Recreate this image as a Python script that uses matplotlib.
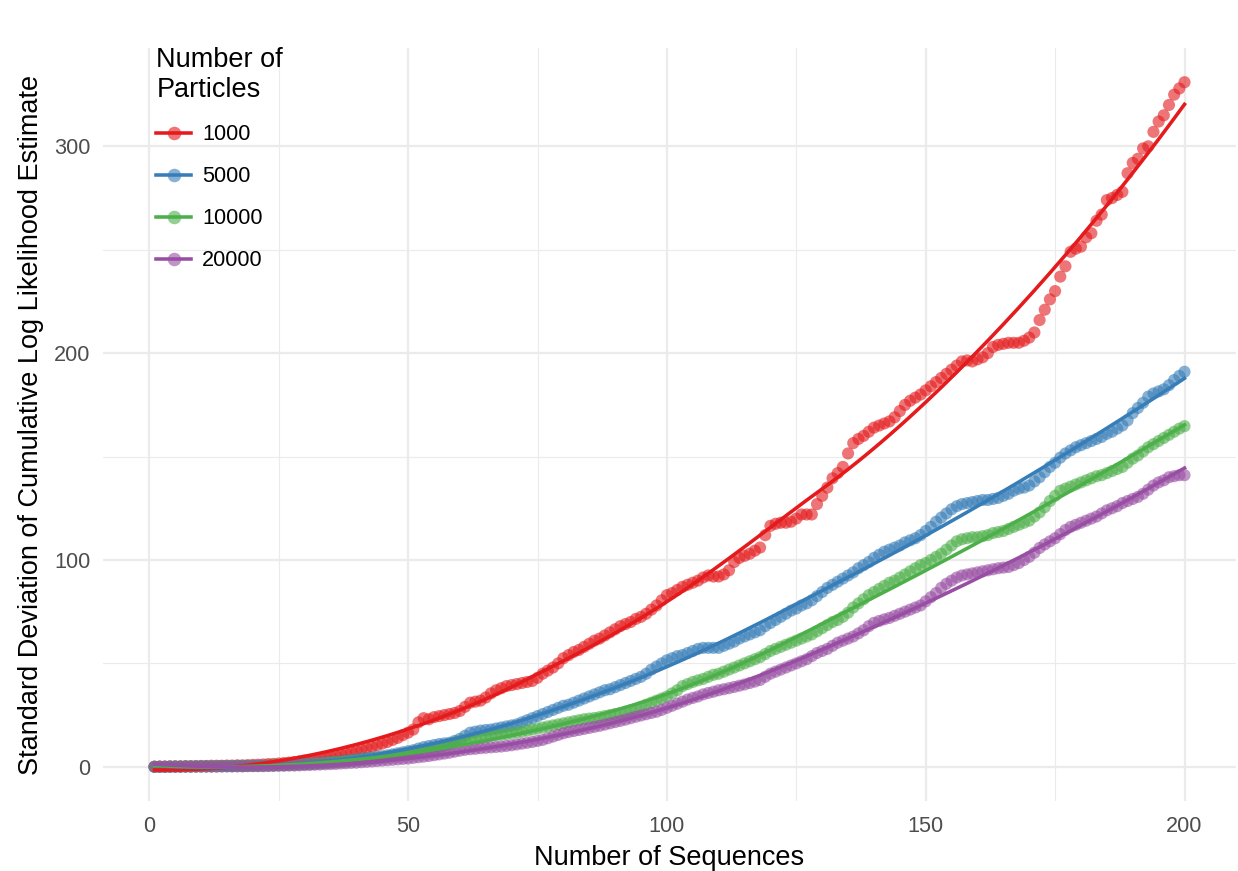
import numpy as np
import matplotlib
matplotlib.use("Agg")
import matplotlib.pyplot as plt
from matplotlib.lines import Line2D
from matplotlib.colors import to_rgba

plt.rcParams['font.family'] = ['Liberation Sans', 'DejaVu Sans']

# Number of sequences (x) and std dev of cumulative log likelihood per particle count
seqs = list(range(1, 201))

sd_1000 = [
    0.0, 0.1, 0.1, 0.2, 0.2, 0.2, 0.3, 0.3, 0.3, 0.4,
    0.4, 0.5, 0.5, 0.5, 0.6, 0.6, 0.7, 0.7, 0.8, 0.9,
    1.0, 1.1, 1.3, 1.4, 1.6, 1.8, 2.0, 2.3, 2.6, 3.0,
    3.3, 3.7, 4.1, 4.6, 5.0, 5.5, 6.0, 6.6, 7.2, 7.8,
    8.4, 9.0, 9.7, 10.4, 11.2, 12.0, 13.0, 14.0, 15.3, 16.5,
    18.0, 21.5, 23.5, 23.0, 24.0, 24.5, 25.0, 25.5, 26.0, 27.0,
    29.0, 31.0, 31.5, 32.0, 33.5, 35.5, 37.0, 38.0, 39.0, 39.5,
    40.0, 40.5, 41.0, 41.5, 43.0, 45.0, 46.5, 48.0, 50.0, 52.5,
    54.0, 55.5, 56.5, 58.0, 59.5, 61.0, 62.0, 63.5, 65.0, 66.5,
    68.0, 69.0, 70.0, 71.5, 72.5, 74.0, 76.0, 78.0, 80.5, 83.0,
    84.0, 85.5, 87.0, 88.0, 89.0, 90.0, 91.5, 92.5, 92.0, 92.0,
    93.0, 95.0, 99.0, 101.0, 102.0, 103.0, 104.5, 106.0, 112.0, 116.5,
    117.5, 118.0, 118.0, 118.5, 120.0, 122.0, 122.0, 122.0, 127.0, 131.0,
    135.0, 139.5, 142.0, 145.0, 151.5, 156.5, 158.5, 160.0, 162.0, 164.0,
    165.0, 166.0, 167.0, 169.0, 172.0, 175.0, 177.0, 178.5, 180.0, 182.0,
    184.0, 186.0, 188.0, 190.0, 192.0, 194.0, 196.0, 196.5, 196.0, 197.0,
    198.0, 200.0, 203.0, 204.0, 204.5, 205.0, 205.0, 205.0, 206.0, 207.5,
    210.0, 216.0, 221.0, 226.0, 230.0, 237.0, 242.0, 249.0, 250.5, 251.5,
    256.0, 258.0, 264.0, 267.0, 274.0, 275.0, 276.5, 278.0, 287.0, 292.0,
    294.0, 299.0, 300.0, 307.0, 312.0, 315.0, 320.0, 325.0, 328.0, 331.0,
]

sd_5000 = [
    0.0, 0.0, 0.0, 0.1, 0.1, 0.1, 0.1, 0.1, 0.2, 0.2,
    0.2, 0.2, 0.3, 0.3, 0.3, 0.3, 0.4, 0.4, 0.4, 0.5,
    0.5, 0.6, 0.6, 0.7, 0.8, 0.9, 1.0, 1.1, 1.2, 1.4,
    1.5, 1.7, 1.9, 2.1, 2.3, 2.5, 2.7, 3.0, 3.3, 3.6,
    3.9, 4.2, 4.5, 4.8, 5.1, 5.5, 6.0, 6.5, 7.0, 7.5,
    8.0, 8.8, 9.5, 10.0, 10.5, 11.0, 11.3, 11.6, 12.5, 13.5,
    15.0, 16.5, 17.0, 17.5, 17.8, 18.0, 18.5, 19.0, 19.5, 20.0,
    20.5, 21.5, 22.5, 23.5, 24.5, 25.5, 26.5, 27.5, 28.5, 29.5,
    30.0, 31.0, 32.0, 33.0, 34.0, 35.0, 36.0, 37.0, 37.5, 38.5,
    39.5, 40.5, 41.5, 42.5, 43.5, 45.0, 47.0, 48.5, 50.0, 51.5,
    52.5, 53.5, 54.0, 55.0, 56.0, 57.0, 57.5, 57.5, 57.5, 57.5,
    58.5, 59.5, 60.5, 62.0, 63.0, 64.0, 65.0, 66.0, 68.0, 69.5,
    71.0, 72.5, 74.0, 75.5, 76.5, 78.0, 79.0, 80.5, 82.5, 84.5,
    86.5, 88.0, 89.5, 91.0, 92.5, 94.0, 96.0, 97.5, 99.0, 101.0,
    102.5, 104.0, 105.0, 106.0, 107.0, 108.5, 109.5, 110.5, 112.0, 114.0,
    116.0, 118.5, 120.5, 122.5, 124.5, 126.0, 127.0, 127.5, 128.0, 128.5,
    129.0, 129.0, 129.5, 130.0, 131.0, 132.0, 133.5, 134.5, 135.0, 136.0,
    138.0, 140.0, 142.5, 145.0, 147.0, 149.5, 151.5, 153.0, 154.5, 155.5,
    156.5, 157.5, 158.5, 159.5, 161.0, 162.0, 163.5, 165.0, 167.5, 171.0,
    173.5, 176.0, 179.0, 180.5, 181.5, 182.5, 184.5, 187.0, 189.0, 191.0,
]

sd_10000 = [
    0.0, 0.0, 0.0, 0.0, 0.1, 0.1, 0.1, 0.1, 0.1, 0.1,
    0.2, 0.2, 0.2, 0.2, 0.3, 0.3, 0.3, 0.3, 0.4, 0.4,
    0.4, 0.5, 0.5, 0.6, 0.7, 0.7, 0.8, 0.9, 1.0, 1.1,
    1.2, 1.4, 1.5, 1.7, 1.9, 2.1, 2.3, 2.5, 2.8, 3.0,
    3.3, 3.6, 3.9, 4.2, 4.5, 4.9, 5.3, 5.8, 6.3, 6.8,
    7.3, 7.8, 8.3, 8.7, 9.0, 9.6, 10.2, 11.0, 11.8, 12.5,
    13.0, 13.3, 13.6, 14.0, 14.5, 15.0, 15.3, 15.5, 15.8, 16.2,
    16.6, 17.0, 17.5, 18.0, 18.5, 19.0, 19.5, 20.0, 20.5, 21.0,
    21.5, 22.0, 22.5, 23.0, 23.3, 23.6, 24.0, 24.5, 25.0, 25.5,
    26.0, 26.6, 27.3, 28.0, 29.0, 30.0, 31.0, 32.0, 33.0, 34.0,
    35.5, 37.0, 39.0, 40.0, 41.0, 41.8, 42.5, 43.5, 44.5, 45.0,
    46.0, 47.0, 48.0, 49.0, 50.0, 51.0, 52.0, 53.0, 54.5, 56.0,
    57.0, 58.0, 59.0, 60.0, 61.0, 62.0, 63.0, 64.0, 65.5, 67.0,
    68.5, 70.0, 71.0, 72.5, 74.5, 77.0, 79.0, 81.0, 83.0, 84.5,
    86.0, 87.5, 89.0, 90.0, 91.5, 93.0, 94.5, 96.0, 97.5, 98.5,
    100.0, 101.5, 103.0, 105.0, 107.0, 109.0, 110.0, 110.5, 111.0, 111.0,
    111.5, 112.0, 113.0, 113.5, 114.0, 115.0, 116.0, 117.0, 118.0, 119.0,
    121.0, 123.0, 125.5, 128.5, 131.0, 133.5, 134.5, 135.5, 136.5, 137.5,
    138.5, 139.5, 140.5, 141.0, 142.0, 143.0, 144.0, 145.0, 147.0, 149.0,
    150.5, 152.5, 154.5, 156.0, 157.5, 159.0, 160.5, 162.0, 163.5, 164.7,
]

sd_20000 = [
    0.0, 0.0, 0.0, 0.0, 0.0, 0.0, 0.1, 0.1, 0.1, 0.1,
    0.1, 0.1, 0.1, 0.2, 0.2, 0.2, 0.2, 0.2, 0.3, 0.3,
    0.3, 0.3, 0.4, 0.4, 0.5, 0.5, 0.6, 0.6, 0.7, 0.8,
    0.9, 1.0, 1.1, 1.2, 1.3, 1.4, 1.6, 1.7, 1.9, 2.0,
    2.2, 2.4, 2.6, 2.8, 3.0, 3.2, 3.4, 3.6, 3.8, 4.0,
    4.3, 4.6, 4.9, 5.2, 5.6, 6.0, 6.4, 6.8, 7.3, 7.8,
    8.2, 8.5, 8.7, 9.0, 9.2, 9.4, 9.6, 9.8, 10.1, 10.4,
    10.8, 11.2, 11.6, 12.0, 12.5, 13.0, 13.8, 14.6, 15.4, 16.2,
    16.8, 17.3, 17.8, 18.3, 18.8, 19.3, 19.8, 20.4, 21.0, 21.6,
    22.2, 22.8, 23.5, 24.2, 24.8, 25.4, 26.0, 26.6, 27.5, 28.5,
    29.5, 30.5, 31.5, 32.5, 33.3, 34.0, 35.0, 35.7, 36.3, 37.0,
    37.5, 38.0, 38.6, 39.2, 39.8, 40.5, 41.2, 42.0, 43.5, 45.0,
    46.0, 47.0, 48.0, 49.0, 50.0, 51.0, 52.0, 53.5, 55.0, 56.0,
    57.0, 58.5, 60.0, 61.0, 62.0, 63.0, 64.5, 66.0, 68.0, 69.6,
    70.5, 71.3, 72.0, 73.0, 74.0, 75.0, 76.0, 77.0, 78.0, 80.0,
    82.0, 84.0, 86.5, 88.5, 90.0, 91.5, 92.5, 93.0, 93.5, 94.0,
    94.5, 95.0, 95.5, 96.0, 96.3, 96.6, 97.5, 98.5, 100.0, 101.5,
    103.5, 105.8, 107.5, 109.0, 110.5, 112.5, 114.5, 116.0, 117.0, 118.0,
    119.0, 120.0, 121.0, 122.5, 124.0, 125.0, 126.0, 127.5, 128.5, 129.5,
    130.5, 132.0, 134.0, 136.0, 137.5, 138.5, 140.0, 140.5, 141.0, 141.0,
]

particles = ['1000', '5000', '10000', '20000']
colors = ['#E41A1C', '#377EB8', '#4DAF4A', '#984EA3']
series = [sd_1000, sd_5000, sd_10000, sd_20000]


def loess(x, y, span=0.75):
    # local quadratic fit with tricube weights, like R's loess default
    x = np.asarray(x, float)
    y = np.asarray(y, float)
    n = len(x)
    q = int(np.ceil(span * n))
    out = np.empty(n)
    for i, x0 in enumerate(x):
        d = np.abs(x - x0)
        h = np.sort(d)[q - 1]
        w = np.clip(1 - (d / h) ** 3, 0, None) ** 3
        X = np.vstack([np.ones(n), x - x0, (x - x0) ** 2]).T
        W = np.sqrt(w)
        beta = np.linalg.lstsq(X * W[:, None], y * W, rcond=None)[0]
        out[i] = beta[0]
    return out


fig = plt.figure(figsize=(1238 / 150, 871 / 150), dpi=150)
ax = fig.add_axes([103 / 1238, 1 - 801 / 871, 1133 / 1238, 753 / 871])

for s, c in zip(series, colors):
    ax.scatter(seqs, s, s=34, color=c, alpha=0.6, edgecolors='none', zorder=3)
for s, c in zip(series, colors):
    ax.plot(seqs, loess(seqs, s), color=c, lw=1.7, zorder=4)

ax.set_xlim(-8.95, 209.95)
ax.set_ylim(-16.55, 347.55)
ax.set_xticks([0, 50, 100, 150, 200])
ax.set_yticks([0, 100, 200, 300])
ax.set_xticks([25, 75, 125, 175], minor=True)
ax.set_yticks([50, 150, 250], minor=True)
ax.grid(which='major', color='#EBEBEB', lw=1.1)
ax.grid(which='minor', color='#EBEBEB', lw=0.55)
ax.set_axisbelow(True)
for sp in ax.spines.values():
    sp.set_visible(False)
ax.tick_params(which='both', length=0, labelsize=10.4, labelcolor='#4D4D4D')
ax.tick_params(axis='x', pad=7)
ax.tick_params(axis='y', pad=6)

ax.set_xlabel('Number of Sequences', fontsize=13, labelpad=4)
ax.set_ylabel('Standard Deviation of Cumulative Log Likelihood Estimate', fontsize=13, labelpad=5)

handles = [Line2D([0], [0], color=c, lw=1.7, marker='o', markersize=6.5,
                  markerfacecolor=to_rgba(c, 0.6), markeredgecolor='none') for c in colors]
leg = ax.legend(handles, particles, title='Number of\nParticles', loc='upper left',
                bbox_to_anchor=(0.03, 1.027), frameon=False, fontsize=10.4,
                title_fontsize=13, labelspacing=0.97, handlelength=1.6,
                handletextpad=0.5, alignment='left')

fig.savefig('out.png', dpi=150)
